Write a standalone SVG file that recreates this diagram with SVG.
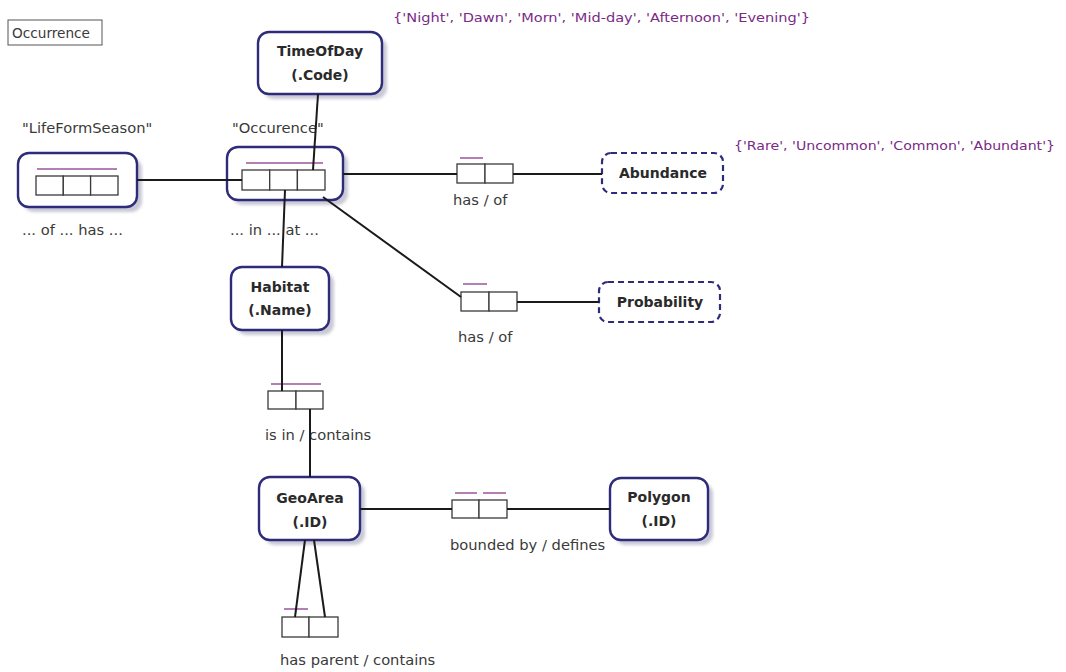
<svg xmlns="http://www.w3.org/2000/svg" width="1066" height="672" viewBox="0 0 1066 672">
  <defs>
    <filter id="shadow" x="-20%" y="-20%" width="150%" height="150%">
      <feGaussianBlur stdDeviation="1.6"/>
    </filter>
    <style>
      .bg { fill: #ffffff; }
      .ent { fill: #ffffff; stroke: #2e2b7a; stroke-width: 2.4; }
      .val { fill: #ffffff; stroke: #2e2b7a; stroke-width: 2.2; stroke-dasharray: 6 4; }
      .shd { fill: #c9c9d6; filter: url(#shadow); }
      .cell { fill: #ffffff; stroke: #3a3a3a; stroke-width: 1.3; }
      .uc { stroke: #b47fb4; stroke-width: 2; fill: none; }
      .conn { stroke: #1a1a1a; stroke-width: 2; fill: none; }
      .name { font-family: "DejaVu Sans", Verdana, sans-serif; font-weight: bold; font-size: 14px; fill: #2a2a2a; text-anchor: middle; }
      .lbl { font-family: "DejaVu Sans", Verdana, sans-serif; font-size: 14.7px; fill: #3a3a3a; }
      .enum { font-family: "DejaVu Sans", Verdana, sans-serif; font-size: 13px; fill: #7a2a86; }
    </style>
  </defs>

  <rect class="bg" x="0" y="0" width="1066" height="672"/>

  <!-- model title -->
  <g id="title">
    <rect x="8" y="20" width="94" height="25" fill="#ffffff" stroke="#555555" stroke-width="1"/>
    <text class="lbl" x="12" y="38" textLength="78" lengthAdjust="spacingAndGlyphs">Occurrence</text>
  </g>

  <!-- value constraints -->
  <g id="enum-timeofday">
    <text class="enum" x="393" y="22" textLength="417" lengthAdjust="spacingAndGlyphs">{'Night', 'Dawn', 'Morn', 'Mid-day', 'Afternoon', 'Evening'}</text>
  </g>
  <g id="enum-abundance">
    <text class="enum" x="734" y="150" textLength="321" lengthAdjust="spacingAndGlyphs">{'Rare', 'Uncommon', 'Common', 'Abundant'}</text>
  </g>

  <!-- entity types -->
  <g id="node-timeofday">
    <rect class="shd" x="263" y="37" width="124" height="62" rx="11"/>
    <rect class="ent" x="258" y="32" width="124" height="62" rx="11"/>
    <text class="name" x="320" y="56">TimeOfDay</text>
    <text class="name" x="320" y="80">(.Code)</text>
  </g>

  <g id="node-habitat">
    <rect class="shd" x="236" y="272" width="98" height="63" rx="11"/>
    <rect class="ent" x="231" y="267" width="98" height="63" rx="11"/>
    <text class="name" x="280" y="292">Habitat</text>
    <text class="name" x="280" y="315">(.Name)</text>
  </g>

  <g id="node-geoarea">
    <rect class="shd" x="264" y="482" width="101" height="63" rx="11"/>
    <rect class="ent" x="259" y="477" width="101" height="63" rx="11"/>
    <text class="name" x="310" y="503">GeoArea</text>
    <text class="name" x="310" y="527">(.ID)</text>
  </g>

  <g id="node-polygon">
    <rect class="shd" x="615" y="483" width="98" height="62" rx="11"/>
    <rect class="ent" x="610" y="478" width="98" height="62" rx="11"/>
    <text class="name" x="659" y="502">Polygon</text>
    <text class="name" x="659" y="526">(.ID)</text>
  </g>

  <!-- value types -->
  <g id="node-abundance">
    <rect class="val" x="602" y="153" width="121" height="40" rx="9"/>
    <text class="name" x="663" y="178">Abundance</text>
  </g>

  <g id="node-probability">
    <rect class="val" x="599" y="282" width="121" height="40" rx="9"/>
    <text class="name" x="660" y="307">Probability</text>
  </g>

  <!-- objectified fact types -->
  <g id="node-lifeformseason">
    <text class="lbl" x="22" y="133">"LifeFormSeason"</text>
    <rect class="shd" x="23" y="158" width="119" height="54" rx="11"/>
    <rect class="ent" x="18" y="153" width="119" height="54" rx="11"/>
    <line class="uc" x1="37" y1="169" x2="117" y2="169"/>
    <rect class="cell" x="36" y="176" width="27.3" height="19"/>
    <rect class="cell" x="63.3" y="176" width="27.3" height="19"/>
    <rect class="cell" x="90.6" y="176" width="27.4" height="19"/>
    <text class="lbl" x="22" y="235">... of ... has ...</text>
  </g>

  <g id="node-occurence">
    <text class="lbl" x="232" y="133">"Occurence"</text>
    <rect class="shd" x="232" y="152" width="116" height="53" rx="11"/>
    <rect class="ent" x="227" y="147" width="116" height="53" rx="11"/>
    <line class="uc" x1="246" y1="163" x2="323" y2="163"/>
    <rect class="cell" x="242" y="170" width="27.7" height="20"/>
    <rect class="cell" x="269.7" y="170" width="27.7" height="20"/>
    <rect class="cell" x="297.4" y="170" width="27.6" height="20"/>
    <text class="lbl" x="230" y="235">... in ... at ...</text>
  </g>

  <!-- binary fact types -->
  <g id="fact-abundance">
    <line class="uc" x1="460" y1="158" x2="483" y2="158"/>
    <rect class="cell" x="457" y="164" width="28" height="19"/>
    <rect class="cell" x="485" y="164" width="28" height="19"/>
    <text class="lbl" x="453" y="205">has / of</text>
  </g>

  <g id="fact-probability">
    <line class="uc" x1="463" y1="284" x2="487" y2="284"/>
    <rect class="cell" x="461" y="292" width="28" height="19"/>
    <rect class="cell" x="489" y="292" width="28" height="19"/>
    <text class="lbl" x="458" y="342">has / of</text>
  </g>

  <g id="fact-isin">
    <line class="uc" x1="271" y1="384" x2="321" y2="384"/>
    <rect class="cell" x="268" y="391" width="28" height="18"/>
    <rect class="cell" x="296" y="391" width="27" height="18"/>
    <text class="lbl" x="265" y="440">is in / contains</text>
  </g>

  <g id="fact-bounded">
    <line class="uc" x1="455" y1="493" x2="477" y2="493"/>
    <line class="uc" x1="483" y1="493" x2="506" y2="493"/>
    <rect class="cell" x="452" y="500" width="27" height="18"/>
    <rect class="cell" x="479" y="500" width="28" height="18"/>
    <text class="lbl" x="450" y="550">bounded by / defines</text>
  </g>

  <g id="fact-parent">
    <line class="uc" x1="284" y1="609" x2="308" y2="609"/>
    <rect class="cell" x="282" y="617" width="27" height="20"/>
    <rect class="cell" x="309" y="617" width="29" height="20"/>
    <text class="lbl" x="280" y="665">has parent / contains</text>
  </g>

  <!-- connectors, drawn last so they run through the objectified boxes to their roles -->
  <g id="connectors">
    <line class="conn" x1="137" y1="180" x2="242" y2="180"/>
    <line class="conn" x1="318" y1="94" x2="313" y2="170"/>
    <line class="conn" x1="343" y1="174" x2="457" y2="174"/>
    <line class="conn" x1="513" y1="174" x2="602" y2="174"/>
    <line class="conn" x1="323" y1="197" x2="461" y2="297"/>
    <line class="conn" x1="517" y1="302" x2="599" y2="302"/>
    <line class="conn" x1="285" y1="190" x2="282" y2="267"/>
    <line class="conn" x1="282" y1="330" x2="282" y2="391"/>
    <line class="conn" x1="310" y1="409" x2="310" y2="477"/>
    <line class="conn" x1="360" y1="509" x2="452" y2="509"/>
    <line class="conn" x1="507" y1="509" x2="610" y2="509"/>
    <line class="conn" x1="305" y1="540" x2="295" y2="617"/>
    <line class="conn" x1="314" y1="540" x2="325" y2="617"/>
  </g>
</svg>
